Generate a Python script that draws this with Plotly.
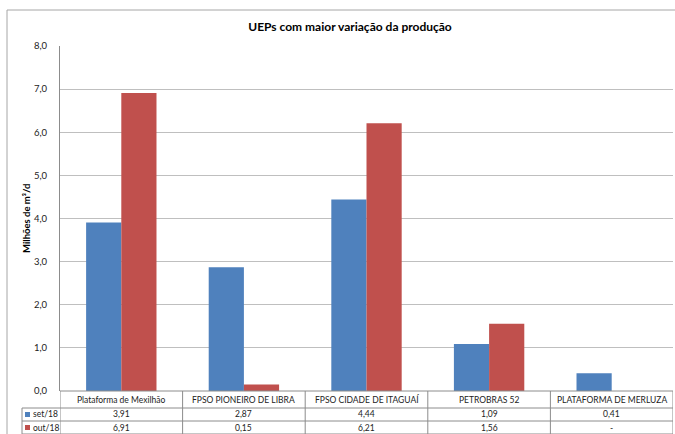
import plotly.graph_objects as go

categorias = ['Plataforma de Mexilhão', 'FPSO PIONEIRO DE LIBRA', 'FPSO CIDADE DE ITAGUAÍ',
              'PETROBRAS 52', 'PLATAFORMA DE MERLUZA']
set18 = [3.91, 2.87, 4.44, 1.09, 0.41]
out18 = [6.91, 0.15, 6.21, 1.56, None]
series = ['set/18', 'out/18']

AZUL = '#4F81BD'
VERMELHO = '#C0504D'
LINHA = '#8C8C8C'
FONTE = 'Lato'

W, H = 675, 434
L, R, T, B = 60, 2, 46, 43
PW, PH = W - L - R, H - T - B


def py(px_y):
    # y em pixels (a partir do topo) -> paper
    return (H - B - px_y) / PH


def px(px_x):
    return (px_x - L) / PW


def fmt(v):
    return '-' if v is None else f'{v:.2f}'.replace('.', ',')


fig = go.Figure()
fig.add_trace(go.Bar(x=list(range(len(categorias))), y=set18, name=series[0],
                     marker=dict(color=AZUL, line=dict(width=0))))
fig.add_trace(go.Bar(x=list(range(len(categorias))), y=out18, name=series[1],
                     marker=dict(color=VERMELHO, line=dict(width=0))))

shapes = []
annotations = []

# moldura externa
shapes.append(dict(type='rect', xref='paper', yref='paper', x0=px(7), x1=px(W + 5),
                   y0=py(H + 5), y1=py(10), line=dict(color='#a6a6a6', width=1)))

# tabela de dados
for yy in [408, 421, 434]:
    shapes.append(dict(type='line', xref='paper', yref='paper', x0=px(22), x1=1,
                       y0=py(yy), y1=py(yy), line=dict(color=LINHA, width=1)))
shapes.append(dict(type='line', xref='paper', yref='paper', x0=0, x1=1,
                   y0=py(391), y1=py(391), line=dict(color=LINHA, width=1)))
shapes.append(dict(type='line', xref='paper', yref='paper', x0=px(22), x1=px(22),
                   y0=py(408), y1=py(436), line=dict(color=LINHA, width=1)))
for i in range(len(categorias) + 1):
    shapes.append(dict(type='line', xref='x', yref='paper', x0=i - 0.5, x1=i - 0.5,
                       y0=py(391), y1=py(436), line=dict(color=LINHA, width=1)))

fonte_tab = dict(family=FONTE, size=8.5, color='#222')
for i, c in enumerate(categorias):
    for texto, yy in [(c, 399.5), (fmt(set18[i]), 414.5), (fmt(out18[i]), 427.5)]:
        annotations.append(dict(x=i, y=py(yy), xref='x', yref='paper', text=texto,
                                showarrow=False, xanchor='center', yanchor='middle',
                                font=fonte_tab))

for nome, cor, yy in [(series[0], AZUL, 414.5), (series[1], VERMELHO, 427.5)]:
    shapes.append(dict(type='rect', xref='paper', yref='paper', x0=px(25), x1=px(30),
                       y0=py(yy + 2.5), y1=py(yy - 2.5), fillcolor=cor, line=dict(width=0)))
    annotations.append(dict(x=px(31), y=py(yy), xref='paper', yref='paper', text=nome,
                            showarrow=False, xanchor='left', yanchor='middle', font=fonte_tab))

# titulo do eixo y
annotations.append(dict(x=px(27), y=py(219), xref='paper', yref='paper',
                        text='<b>Milhões de m³/d</b>', textangle=-90, showarrow=False,
                        xanchor='center', yanchor='middle',
                        font=dict(family=FONTE, size=9.5, color='#000')))

fig.update_layout(
    width=W, height=H,
    margin=dict(l=L, r=R, t=T, b=B),
    paper_bgcolor='white', plot_bgcolor='white',
    title=dict(text='<b>UEPs com maior variação da produção</b>', x=350 / W, xanchor='center',
               y=1 - 27 / H, yanchor='middle', font=dict(family=FONTE, size=12, color='#000')),
    showlegend=False,
    barmode='group', bargap=0.426, bargroupgap=0,
    separators=',.',
    shapes=shapes, annotations=annotations,
    font=dict(family=FONTE, size=9.5, color='#222'),
)
fig.update_xaxes(range=[-0.5, 4.5], showticklabels=False, showgrid=False, zeroline=False,
                 showline=False, fixedrange=True)
fig.update_yaxes(range=[0, 8], dtick=1, tickformat='.1f', showgrid=True, gridcolor='#bfbfbf',
                 gridwidth=1, zeroline=False, showline=True, linecolor=LINHA, linewidth=1,
                 ticks='', ticklabelstandoff=10,
                 tickfont=dict(family=FONTE, size=9.5, color='#222'))

fig.write_html('out.html', config={'displayModeBar': False},
               post_script="document.body.style.margin='0';"
                           "document.body.style.overflow='hidden';")
